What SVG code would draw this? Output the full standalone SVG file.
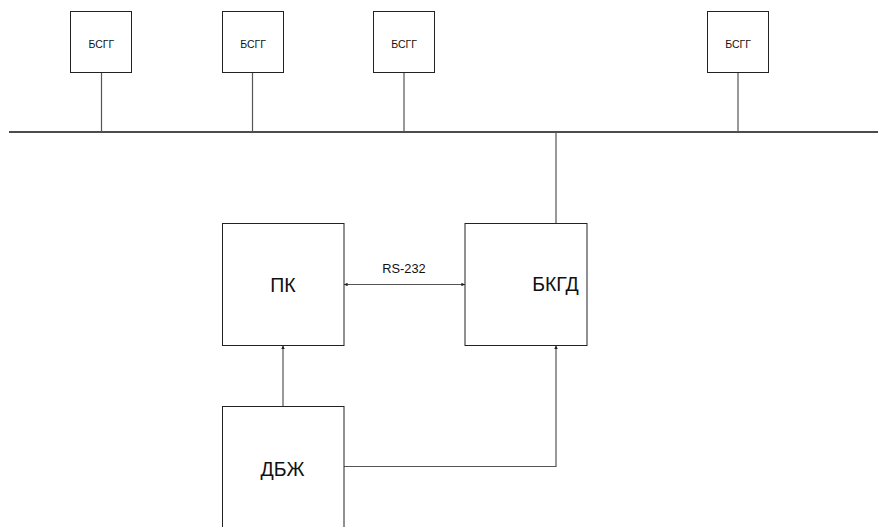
<svg xmlns="http://www.w3.org/2000/svg" width="878" height="527" viewBox="0 0 878 527">
<style>
.box{fill:#fff;stroke:#222;stroke-width:1}
.ln{fill:none;stroke:#555;stroke-width:1.2}
.bus{fill:none;stroke:#111;stroke-width:1.6}
.s{font-family:"Liberation Sans",Arial,sans-serif;font-size:10.5px;fill:#111;text-anchor:middle}
.b{font-family:"Liberation Sans",Arial,sans-serif;font-size:19.5px;fill:#111;text-anchor:middle}
.m{font-family:"Liberation Sans",Arial,sans-serif;font-size:12.8px;fill:#111;text-anchor:middle}
</style>
<defs>
<marker id="ah" viewBox="0 0 6 6" refX="6" refY="3" markerWidth="3" markerHeight="3" orient="auto-start-reverse"><path d="M0,0 L6,3 L0,6 z" fill="#222"/></marker>
</defs>
<rect width="878" height="527" fill="#fff"/>
<g id="connectors">
<line class="bus" x1="9" y1="132" x2="878" y2="132"/>
<line class="ln" x1="101.5" y1="72.5" x2="101.5" y2="132"/>
<line class="ln" x1="252.5" y1="72.5" x2="252.5" y2="132"/>
<line class="ln" x1="404" y1="72.5" x2="404" y2="132"/>
<line class="ln" x1="738" y1="72.5" x2="738" y2="132"/>
<line class="ln" x1="556" y1="132" x2="556" y2="223.5"/>
<line class="ln" x1="344" y1="284.5" x2="465" y2="284.5" marker-start="url(#ah)" marker-end="url(#ah)"/>
<line class="ln" x1="283" y1="406.5" x2="283" y2="345.5" marker-end="url(#ah)"/>
<polyline class="ln" points="344,466.5 556,466.5 556,345.5" marker-end="url(#ah)"/>
</g>
<g id="n1"><rect class="box" x="70.5" y="11.5" width="61" height="61"/><text class="s" x="101.3" y="47.5">БСГГ</text></g>
<g id="n2"><rect class="box" x="222.5" y="11.5" width="61" height="61"/><text class="s" x="253" y="47.5">БСГГ</text></g>
<g id="n3"><rect class="box" x="373.5" y="11.5" width="61" height="61"/><text class="s" x="404" y="47.5">БСГГ</text></g>
<g id="n4"><rect class="box" x="707.5" y="11.5" width="61" height="61"/><text class="s" x="738" y="47.5">БСГГ</text></g>
<g id="pk"><rect class="box" x="222.5" y="223.5" width="121.5" height="122"/><text class="b" x="283" y="291.5">ПК</text></g>
<g id="bkgd"><rect class="box" x="465" y="223.5" width="122" height="122"/><text class="b" x="555.5" y="291">БКГД</text></g>
<g id="dbzh"><rect class="box" x="222.5" y="406.5" width="121.5" height="130"/><text class="b" x="282.5" y="475.5">ДБЖ</text></g>
<text class="m" x="404" y="272.5">RS-232</text>
</svg>
